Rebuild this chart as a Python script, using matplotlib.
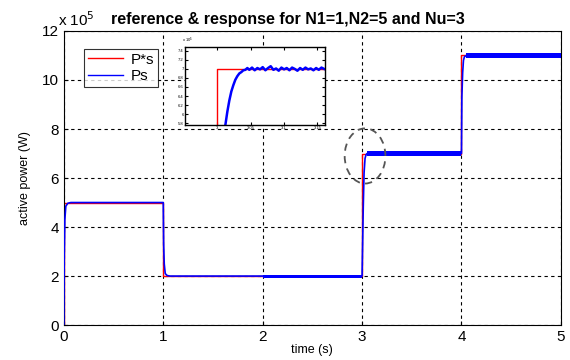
import matplotlib
matplotlib.use("Agg")
import matplotlib.pyplot as plt
from matplotlib.patches import Ellipse

# ---- data (values in W) ----
ref_t = [0, 0, 1, 1, 3, 3, 4, 4, 5]
ref_p = [0, 5e5, 5e5, 2e5, 2e5, 7e5, 7e5, 11e5, 11e5]

resp_t = [0, 0.004, 0.01, 0.02, 0.04, 0.07, 1.0, 1.004, 1.01, 1.02, 1.04, 1.07,
          3.0, 3.012, 3.02, 3.03, 3.04, 3.05, 3.08, 4.0, 4.004, 4.012, 4.02, 4.03, 4.05, 4.08, 5.0]
resp_p = [0, 2.8e5, 4.3e5, 4.85e5, 4.97e5, 5.0e5, 5.0e5, 3.3e5, 2.5e5, 2.1e5, 2.02e5, 2.0e5,
          2.0e5, 4.8e5, 6.2e5, 6.8e5, 6.95e5, 7.0e5, 7.0e5, 7.0e5, 9.3e5, 10.3e5, 10.8e5, 10.95e5, 11.0e5, 11.0e5, 11.0e5]

# noisy plateaus (start, end, level, half-width of noise band)
noise_t0 = [2.0, 3.05, 4.05]
noise_t1 = [3.0, 4.0, 5.0]
noise_lvl = [2.0e5, 7.0e5, 11.0e5]
noise_amp = [0.06e5, 0.1e5, 0.1e5]

# inset (zoom around t = 3 s)
ins_ref_t = [2.95, 3.0, 3.0, 3.17]
ins_ref_p = [2.0e5, 2.0e5, 7.0e5, 7.0e5]
ins_t = [3.012, 3.015, 3.018, 3.021, 3.024, 3.027, 3.030, 3.033, 3.036, 3.039, 3.042, 3.045,
         3.048, 3.052, 3.056, 3.060, 3.064, 3.068, 3.072, 3.076, 3.080, 3.084, 3.088, 3.092,
         3.096, 3.100, 3.104, 3.108, 3.112, 3.116, 3.120, 3.124, 3.128, 3.132, 3.136, 3.140,
         3.144, 3.148, 3.152, 3.156, 3.160]
ins_p = [5.75e5, 6.05e5, 6.30e5, 6.50e5, 6.64e5, 6.76e5, 6.84e5, 6.90e5, 6.93e5, 6.97e5, 6.98e5, 7.02e5,
         6.98e5, 7.03e5, 6.97e5, 7.02e5, 6.99e5, 7.04e5, 6.97e5, 7.02e5, 7.06e5, 6.98e5, 7.01e5, 6.96e5,
         7.03e5, 6.99e5, 7.02e5, 6.97e5, 7.03e5, 7.00e5, 6.96e5, 7.02e5, 6.98e5, 7.03e5, 6.99e5, 7.01e5,
         6.97e5, 7.02e5, 6.98e5, 7.03e5, 7.00e5]

xticks = [0, 1, 2, 3, 4, 5]
yticks = [0, 2e5, 4e5, 6e5, 8e5, 10e5, 12e5]
ytick_labels = ["0", "2", "4", "6", "8", "10", "12"]
ins_xticks = [3.0, 3.05, 3.1, 3.15]
ins_yticks = [5.8e5, 6.0e5, 6.2e5, 6.4e5, 6.6e5, 6.8e5, 7.0e5, 7.2e5, 7.4e5]

plt.rcParams['font.family'] = ['Liberation Sans', 'DejaVu Sans']

fig = plt.figure(figsize=(5.7, 3.6), dpi=100)
ax = fig.add_axes([0.112, 0.097, 0.872, 0.817])

ax.plot(resp_t, resp_p, color='blue', lw=1.2, zorder=3)
for t0, t1, lv, a in zip(noise_t0, noise_t1, noise_lvl, noise_amp):
    ax.fill_between([t0, t1], [lv - a, lv - a], [lv + a, lv + a], color='blue', lw=0, zorder=3)
ax.plot(ref_t, ref_p, color='red', lw=1.0, zorder=2, label='P*s')
ax.plot([], [], color='blue', lw=1.0, label='Ps')

ax.set_xlim(0, 5)
ax.set_ylim(0, 12e5)
ax.set_xticks(xticks)
ax.set_yticks(yticks)
ax.set_yticklabels(ytick_labels)
ax.tick_params(labelsize=11, direction='in', length=3)
ax.grid(True, color='black', linestyle=(0, (3, 3)), lw=0.8)
ax.set_xlabel('time (s)', fontsize=9, labelpad=0)
ax.set_ylabel('active power (W)', fontsize=9, labelpad=8)
ax.set_title('reference & response for N1=1,N2=5 and Nu=3', fontsize=11.5, fontweight='bold',
             pad=5, x=0.45)
ax.text(-0.012, 1.005, r'x 10$^5$', transform=ax.transAxes, fontsize=11, va='bottom', ha='left')
for s in ax.spines.values():
    s.set_linewidth(0.8)

leg = ax.legend(loc='upper left', bbox_to_anchor=(0.025, 0.965), fontsize=11, frameon=True,
                fancybox=False, edgecolor='black', handlelength=2.3, borderpad=0.25,
                labelspacing=0.15, handletextpad=0.5)
leg.get_frame().set_linewidth(0.8)

ell = Ellipse((3.03, 6.9e5), 0.41, 2.25e5, fill=False, edgecolor='#555555', lw=1.3,
              linestyle=(0, (4, 3)), zorder=4)
ax.add_patch(ell)

# inset
ins = fig.add_axes([0.325, 0.653, 0.246, 0.217])
ins.plot(ins_ref_t, ins_ref_p, color='red', lw=1.0)
ins.plot(ins_t, ins_p, color='blue', lw=1.8)
ins.set_xlim(2.952, 3.162)
ins.set_ylim(5.76e5, 7.49e5)
ins.set_xticks(ins_xticks)
ins.set_xticklabels(["3", "3.05", "3.1", "3.15"])
ins.set_yticks(ins_yticks)
ins.set_yticklabels(["5.8", "6", "6.2", "6.4", "6.6", "6.8", "7", "7.2", "7.4"])
ins.tick_params(labelsize=3, direction='in', length=2, pad=1, top=True, right=True)
ins.text(-0.02, 1.02, r'x 10$^5$', transform=ins.transAxes, fontsize=3, va='bottom')
for s in ins.spines.values():
    s.set_linewidth(1.0)

fig.savefig('out.png', dpi=100)
